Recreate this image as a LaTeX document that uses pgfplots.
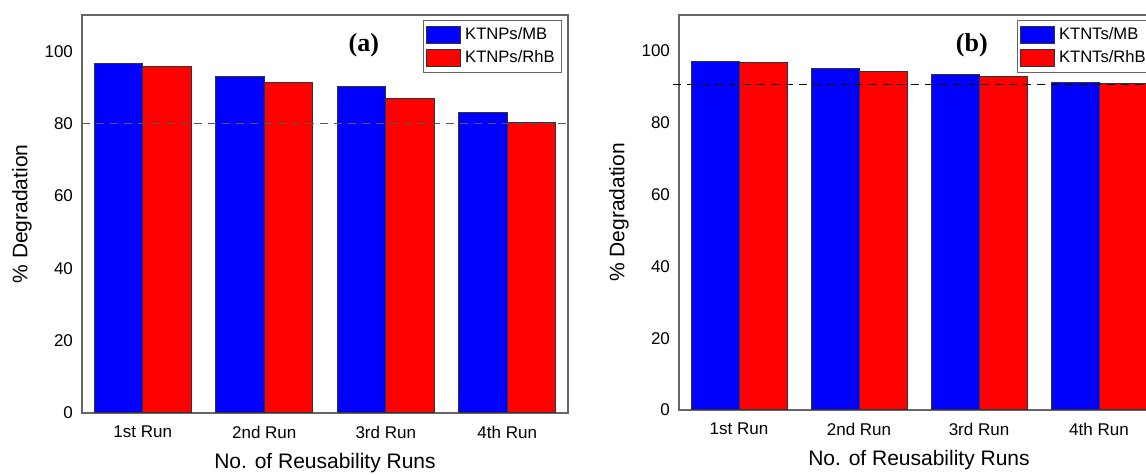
\documentclass[border=0pt]{standalone}
\usepackage{pgfplots}
\pgfplotsset{compat=1.18}
\usepackage{fontspec}
\setmainfont{Liberation Sans}
\newfontfamily\timesfont{Liberation Serif}
\definecolor{barblue}{RGB}{0,0,255}
\definecolor{barred}{RGB}{255,0,0}
\pgfplotsset{
 myax/.style={
  scale only axis, anchor=south west,
  xmin=0.5, xmax=4.5, ymin=0, ymax=110,
  ytick={0,20,40,60,80,100},
  xtick={1,2,3,4}, xticklabels={1st Run,2nd Run,3rd Run,4th Run},
  tick style={draw=none},
  axis line style={draw=black!60, line width=0.6pt},
  /pgf/number format/assume math mode=true,
  ticklabel style={font=\fontsize{8.5}{10}\selectfont},
  xticklabel style={yshift=-3pt},
  yticklabel style={xshift=-1pt},
  label style={font=\fontsize{10.5}{12}\selectfont},
  xlabel={No. of Reusability Runs},
  ylabel={\% Degradation},
  xlabel style={at={(axis description cs:0.5,0)}, anchor=center, yshift=-25pt},
  ylabel style={at={(axis description cs:0,0.5)}, anchor=center, yshift=30pt},
  legend style={at={(rel axis cs:0.988,0.988)}, anchor=north east,
    draw=black!60, line width=0.5pt, font=\fontsize{8.3}{9.5}\selectfont,
    inner sep=1.5pt, row sep=0pt, legend cell align=left},
  legend image code/.code={\draw[#1] (0pt,-4.3pt) rectangle (17pt,4.3pt);},
 },
 bb/.style={ybar, bar width=0.4, draw=black!80, line width=0.5pt, fill=barblue, bar shift=-0.2},
 br/.style={ybar, bar width=0.4, draw=black!80, line width=0.5pt, fill=barred, bar shift=0.2},
}
\begin{document}
\begin{tikzpicture}
\useasboundingbox (0,0) rectangle (573pt,237.5pt);
\clip (0,0) rectangle (573pt,237.5pt);
% Panel (a)
\begin{axis}[myax, at={(41pt,31pt)}, width=243pt, height=199pt]
\addplot[bb] coordinates {(1,96.5) (2,93.0) (3,90.3) (4,83.0)};
\addlegendentry{KTNPs/MB}
\addplot[br] coordinates {(1,95.9) (2,91.4) (3,86.8) (4,80.4)};
\addlegendentry{KTNPs/RhB}
\addplot[sharp plot, forget plot, mark=none, draw=black!65, line width=0.6pt, dash pattern=on 4pt off 3pt] coordinates {(0.5,80) (4.5,80)};
\node[font=\timesfont\bfseries\fontsize{13}{15}\selectfont] at (axis cs:2.82,101.5) {(a)};
\end{axis}
% Panel (b)
\begin{axis}[myax, at={(339.5pt,32.5pt)}, width=240pt, height=197.5pt, clip=false]
\addplot[bb] coordinates {(1,97.1) (2,95.2) (3,93.5) (4,91.1)};
\addlegendentry{KTNTs/MB}
\addplot[br] coordinates {(1,96.8) (2,94.2) (3,92.8) (4,90.8)};
\addlegendentry{KTNTs/RhB}
\addplot[sharp plot, forget plot, mark=none, draw=black, line width=0.6pt, dash pattern=on 4pt off 3pt] coordinates {(0.45,90.6) (4.5,90.6)};
\node[font=\timesfont\bfseries\fontsize{13}{15}\selectfont] at (axis cs:2.94,101.5) {(b)};
\end{axis}
\end{tikzpicture}
\end{document}
